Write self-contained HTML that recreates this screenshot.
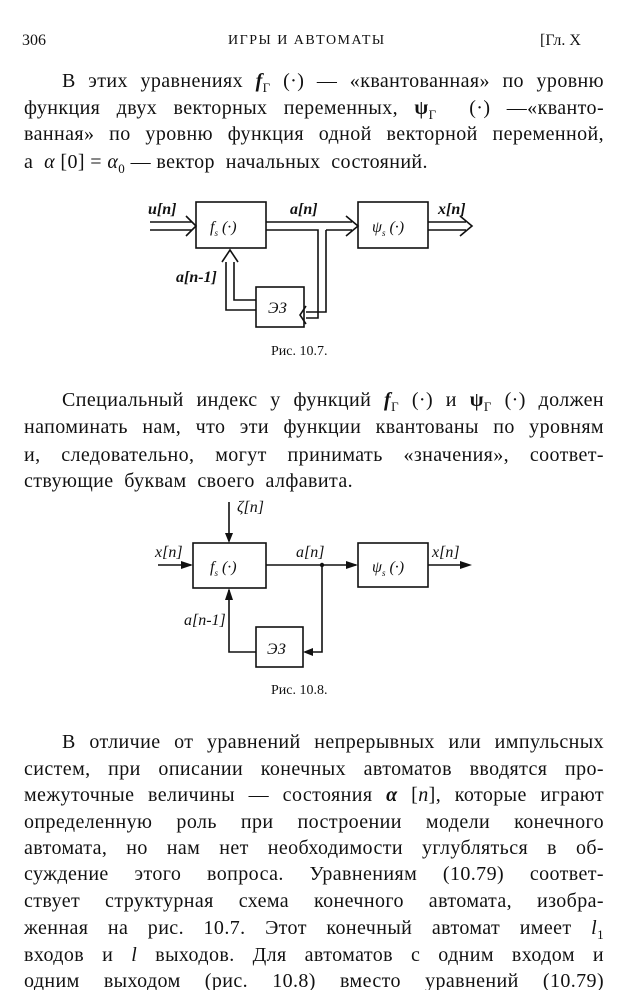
<!DOCTYPE html>
<html><head><meta charset="utf-8"><style>
body{margin:0;background:#fff;}
#p{position:relative;width:632px;height:990px;overflow:hidden;background:#fff;color:#111;font-family:"Liberation Serif",serif;}
.l{position:absolute;left:24px;width:580px;font-size:20px;letter-spacing:0.4px;line-height:20px;text-align:justify;text-align-last:justify;white-space:nowrap;}
.l.i{left:62px;width:542px;}
.l.e{text-align-last:left;}
sub{line-height:0;font-size:13px;}
.c{position:absolute;font-size:15px;}
svg{position:absolute;left:0;top:0;}
svg text{font-family:"Liberation Serif",serif;font-style:italic;}
</style></head><body><div id="p">
<div class="c" style="left:22px;top:32px;font-size:16px">306</div>
<div class="c" style="left:228px;top:33px;font-size:14px;letter-spacing:1.5px">ИГРЫ И АВТОМАТЫ</div>
<div class="c" style="left:540px;top:32px;font-size:16px">[Гл. X</div>

<div class="l i" style="top:71px">В этих уравнениях <b><i>f</i></b><sub>Γ</sub> (·) — «квантованная» по уровню</div>
<div class="l" style="top:98px">функция двух векторных переменных, <b>ψ</b><sub>Γ</sub> &nbsp;(·) —«кванто-</div>
<div class="l" style="top:124px">ванная» по уровню функция одной векторной переменной,</div>
<div class="l e" style="top:152px">а &nbsp;<i>α</i> [0] = <i>α</i><sub>0</sub> — вектор &nbsp;начальных &nbsp;состояний.</div>

<svg width="632" height="990" viewBox="0 0 632 990">
<g fill="none" stroke="#111" stroke-width="1.6">
<rect x="196" y="202" width="70" height="46"/>
<rect x="358" y="202" width="70" height="46"/>
<rect x="256" y="287" width="48" height="40"/>
<path d="M150 222 H192 M150 230 H192 M186 216 L196 226 L186 236"/>
<path d="M266 222 H352 M266 230 H318 V318 H306 M326 230 H352 M326 230 V312 H306 M346 216 L358 226 L346 236"/>
<path d="M306 306 L300 315 L306 324"/>
<path d="M428 222 H466 M428 230 H466 M460 216 L472 226 L460 236"/>
<path d="M256 300 H234 V262 M256 310 H226 V262 M222 262 L230 250 L238 262"/>
<rect x="193" y="543" width="73" height="45"/>
<rect x="358" y="543" width="70" height="44"/>
<rect x="256" y="627" width="47" height="40"/>
<path d="M229 502 V541 M158 565 H191 M266 565 H356 M428 565 H462 M322 565 V652 H305 M256 652 H229 V590"/>
</g>
<g fill="#111">
<path d="M225 533 L229 543 L233 533Z"/>
<path d="M181 561 L193 565 L181 569Z"/>
<path d="M346 561 L358 565 L346 569Z"/>
<path d="M460 561 L472 565 L460 569Z"/>
<path d="M313 648 L303 652 L313 656Z"/>
<path d="M225 600 L229 588 L233 600Z"/>
<circle cx="322" cy="565" r="2.2"/>
</g>
<g font-size="16" fill="#111">
<text x="148" y="214" font-weight="bold">u[n]</text>
<text x="210" y="232">f<tspan font-size="9" dy="4">s</tspan><tspan dy="-4"> (·)</tspan></text>
<text x="290" y="214" font-weight="bold">a[n]</text>
<text x="372" y="232">ψ<tspan font-size="9" dy="4">s</tspan><tspan dy="-4"> (·)</tspan></text>
<text x="438" y="214" font-weight="bold">x[n]</text>
<text x="176" y="282" font-weight="bold">a[n-1]</text>
<text x="268" y="313">ЭЗ</text>
<text x="237" y="512">ζ[n]</text>
<text x="155" y="557">x[n]</text>
<text x="210" y="572">f<tspan font-size="9" dy="4">s</tspan><tspan dy="-4"> (·)</tspan></text>
<text x="296" y="557">a[n]</text>
<text x="372" y="572">ψ<tspan font-size="9" dy="4">s</tspan><tspan dy="-4"> (·)</tspan></text>
<text x="432" y="557">x[n]</text>
<text x="184" y="625">a[n-1]</text>
<text x="267" y="654">ЭЗ</text>
</g>
</svg>

<div class="c" style="left:271px;top:344px;font-size:14px">Рис. 10.7.</div>

<div class="l i" style="top:390px">Специальный индекс у функций <b><i>f</i></b><sub>Γ</sub> (·) и <b>ψ</b><sub>Γ</sub> (·) должен</div>
<div class="l" style="top:417px">напоминать нам, что эти функции квантованы по уровням</div>
<div class="l" style="top:445px">и, следовательно, могут принимать «значения», соответ-</div>
<div class="l e" style="top:471px">ствующие &nbsp;буквам &nbsp;своего &nbsp;алфавита.</div>

<div class="c" style="left:271px;top:683px;font-size:14px">Рис. 10.8.</div>

<div class="l i" style="top:732px">В отличие от уравнений непрерывных или импульсных</div>
<div class="l" style="top:759px">систем, при описании конечных автоматов вводятся про-</div>
<div class="l" style="top:785px">межуточные величины — состояния <b><i>α</i></b> [<i>n</i>], которые играют</div>
<div class="l" style="top:812px">определенную роль при построении модели конечного</div>
<div class="l" style="top:838px">автомата, но нам нет необходимости углубляться в об-</div>
<div class="l" style="top:864px">суждение этого вопроса. Уравнениям (10.79) соответ-</div>
<div class="l" style="top:891px">ствует структурная схема конечного автомата, изобра-</div>
<div class="l" style="top:918px">женная на рис. 10.7. Этот конечный автомат имеет <i>l</i><sub>1</sub></div>
<div class="l" style="top:945px">входов и <i>l</i> выходов. Для автоматов с одним входом и</div>
<div class="l" style="top:971px">одним выходом (рис. 10.8) вместо уравнений (10.79)</div>
</div></body></html>
